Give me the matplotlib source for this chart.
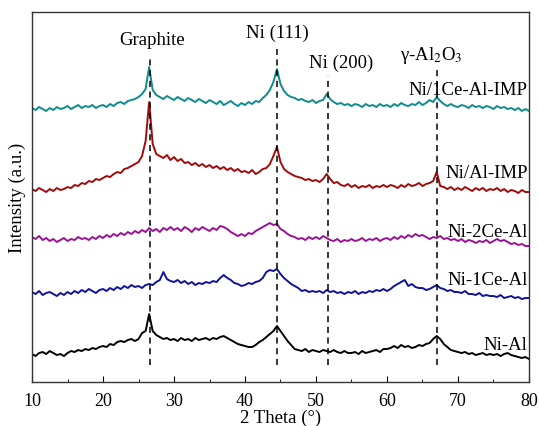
import numpy as np
import matplotlib
matplotlib.use("Agg")
import matplotlib.pyplot as plt

plt.rcParams['font.family'] = ['Liberation Serif', 'DejaVu Serif']
plt.rcParams['mathtext.fontset'] = 'stix'

# 2 theta grid, 0.5 deg steps
twoTheta = np.arange(10, 80.25, 0.5)

# intensities (a.u., offset stacked)
niCeIMP = [274, 272, 275, 273, 271, 274, 272, 275, 273, 274,
           276, 273, 275, 277, 274, 276, 275, 277, 274, 276,
           277, 275, 278, 276, 279, 280, 278, 281, 282, 283,
           285, 288, 293, 315, 292, 287, 285, 283, 286, 284,
           282, 285, 283, 281, 284, 282, 280, 283, 281, 279,
           282, 280, 278, 281, 277, 279, 281, 278, 276, 279,
           277, 280, 278, 281, 280, 284, 287, 292, 300, 313,
           298, 291, 287, 285, 284, 282, 283, 281, 280, 282,
           279, 281, 282, 288, 283, 280, 278, 279, 277, 278,
           276, 278, 277, 275, 278, 276, 277, 275, 278, 276,
           277, 275, 278, 276, 279, 277, 276, 278, 277, 280,
           277, 279, 282, 280, 285, 281, 278, 276, 278, 276,
           275, 277, 276, 274, 277, 275, 276, 274, 276, 275,
           273, 276, 274, 275, 273, 274, 272, 274, 271, 273,
           271]
niAlIMP = [193, 191, 194, 192, 190, 193, 191, 194, 192, 193,
           195, 194, 197, 196, 199, 198, 201, 200, 203, 202,
           204, 206, 205, 208, 210, 209, 213, 214, 216, 218,
           220, 226, 241, 280, 238, 228, 226, 224, 227, 222,
           225, 221, 223, 219, 220, 217, 219, 216, 218, 215,
           217, 214, 216, 213, 215, 212, 214, 211, 213, 210,
           211, 209, 212, 208, 210, 213, 214, 218, 226, 235,
           220, 213, 210, 208, 206, 205, 204, 202, 203, 201,
           202, 200, 203, 208, 203, 199, 200, 197, 196, 198,
           195, 197, 194, 196, 195, 197, 194, 196, 195, 197,
           195, 197, 196, 194, 197, 195, 198, 196, 197, 199,
           196, 198, 199, 201, 210, 196, 195, 193, 195, 192,
           194, 192, 195, 193, 191, 194, 192, 194, 191, 193,
           192, 194, 191, 193, 190, 192, 191, 189, 192, 190,
           190]
ni2CeAl = [145, 143, 146, 142, 144, 141, 143, 140, 142, 144,
           141, 143, 142, 145, 143, 144, 142, 145, 143, 146,
           144, 147, 145, 148, 146, 149, 147, 150, 148, 151,
           149, 152, 150, 154, 151, 153, 150, 154, 152, 155,
           152, 154, 151, 155, 153, 150, 154, 152, 155, 153,
           151, 154, 152, 156, 155, 153, 150, 148, 146, 148,
           146, 149, 148, 151, 153, 155, 157, 159, 157, 158,
           153, 151, 148, 146, 145, 143, 144, 142, 145, 143,
           145, 143, 146, 144, 142, 141, 143, 140, 142, 141,
           143, 141, 142, 144, 141, 143, 142, 144, 141, 143,
           144, 142, 145, 143, 146, 144, 147, 145, 148, 146,
           147, 145, 143, 145, 144, 146, 143, 144, 142, 143,
           141, 143, 140, 142, 141, 139, 141, 140, 142, 139,
           141, 143, 141, 142, 140, 138, 139, 137, 138, 136,
           136]
ni1CeAl = [90, 88, 91, 87, 89, 90, 88, 86, 89, 87,
           90, 88, 91, 89, 92, 90, 93, 91, 89, 92,
           93, 91, 94, 92, 95, 93, 96, 94, 97, 95,
           96, 94, 97, 98, 97, 100, 102, 110, 103, 101,
           100, 102, 99, 101, 98, 100, 97, 99, 98, 100,
           99, 101, 100, 104, 107, 104, 102, 99, 98, 96,
           97, 99, 98, 100, 101, 104, 110, 112, 111, 113,
           108, 104, 101, 98, 96, 94, 91, 92, 90, 91,
           90, 91, 89, 92, 90, 91, 89, 90, 88, 90,
           89, 91, 88, 90, 89, 91, 90, 92, 91, 93,
           91, 93, 96, 98, 100, 102, 96, 98, 95, 94,
           94, 92, 93, 95, 97, 94, 93, 91, 92, 90,
           90, 89, 91, 88, 88, 87, 89, 86, 87, 86,
           86, 85, 87, 84, 85, 86, 84, 85, 83, 84,
           84]
niAl = [28, 26, 29, 30, 28, 31, 29, 27, 28, 26,
        29, 31, 30, 32, 31, 33, 32, 34, 33, 35,
        36, 35, 38, 37, 40, 41, 40, 42, 43, 41,
        43, 49, 51, 68, 51, 47, 45, 43, 44, 42,
        43, 41, 44, 42, 43, 41, 44, 42, 43, 44,
        42, 44, 43, 45, 46, 44, 42, 40, 38, 37,
        36, 35, 35, 37, 40, 42, 45, 48, 51, 56,
        51, 46, 41, 37, 33, 32, 31, 33, 30, 32,
        31, 30, 32, 31, 30, 32, 30, 29, 31, 29,
        29, 30, 28, 31, 29, 30, 31, 32, 30, 33,
        33, 34, 36, 34, 37, 35, 36, 34, 35, 37,
        36, 38, 39, 43, 46, 43, 38, 35, 32, 31,
        30, 29, 30, 28, 29, 27, 28, 29, 27, 28,
        27, 28, 26, 28, 29, 27, 26, 25, 24, 25,
        23]

seriesNames = ["Ni/1Ce-Al-IMP", "Ni/Al-IMP", "Ni-2Ce-Al", "Ni-1Ce-Al", "Ni-Al"]
seriesColors = ["#0e8c8c", "#a00a0a", "#9c1096", "#10129a", "#000000"]
labelHeights = [293, 210, 151, 103, 38]

# reference peak positions
peakNames = ["Graphite", "Ni (111)", "Ni (200)", r"γ-Al$_2$O$_3$"]
peakPositions = [26.6, 44.5, 51.7, 67.1]
peakTops = [325, 333, 306, 316]
peakLabelX = [26.9, 44.6, 53.6, 66.3]
peakLabelY = [343, 350, 320, 328]


def main():
    fig = plt.figure(figsize=(5.39, 4.27), dpi=100)
    ax = fig.add_axes([0.0594, 0.103, 0.922, 0.8665])

    allSeries = [niCeIMP, niAlIMP, ni2CeAl, ni1CeAl, niAl]
    for data, color in zip(allSeries, seriesColors):
        ax.plot(twoTheta, data, color=color, linewidth=1.4)

    for x, top in zip(peakPositions, peakTops):
        ax.plot([x, x], [17, top], color='black', linestyle=(0, (4, 3)), linewidth=1.1)

    for name, x, y in zip(peakNames, peakLabelX, peakLabelY):
        ax.text(x, y, name, ha='center', va='center', fontsize=13.5)

    for name, y in zip(seriesNames, labelHeights):
        ax.text(79.8, y, name, ha='right', va='center', fontsize=13.5)

    ax.set_xlim(10, 80)
    ax.set_ylim(0, 370)
    ax.set_xticks(np.arange(10, 81, 10))
    ax.set_xticks(np.arange(15, 80, 10), minor=True)
    ax.set_yticks([])
    ax.tick_params(axis='x', direction='in', length=4, labelsize=13, pad=7)
    ax.tick_params(axis='x', which='minor', direction='in', length=2.5)
    for spine in ax.spines.values():
        spine.set_color('#333333')
        spine.set_linewidth(1.0)
    ax.set_xlabel("2 Theta (°)", fontsize=13.5, labelpad=0)
    ax.set_ylabel("Intensity (a.u.)", fontsize=13.5, labelpad=4)

    fig.savefig("out.png", dpi=100)
    plt.close(fig)


if __name__ == "__main__":
    main()
